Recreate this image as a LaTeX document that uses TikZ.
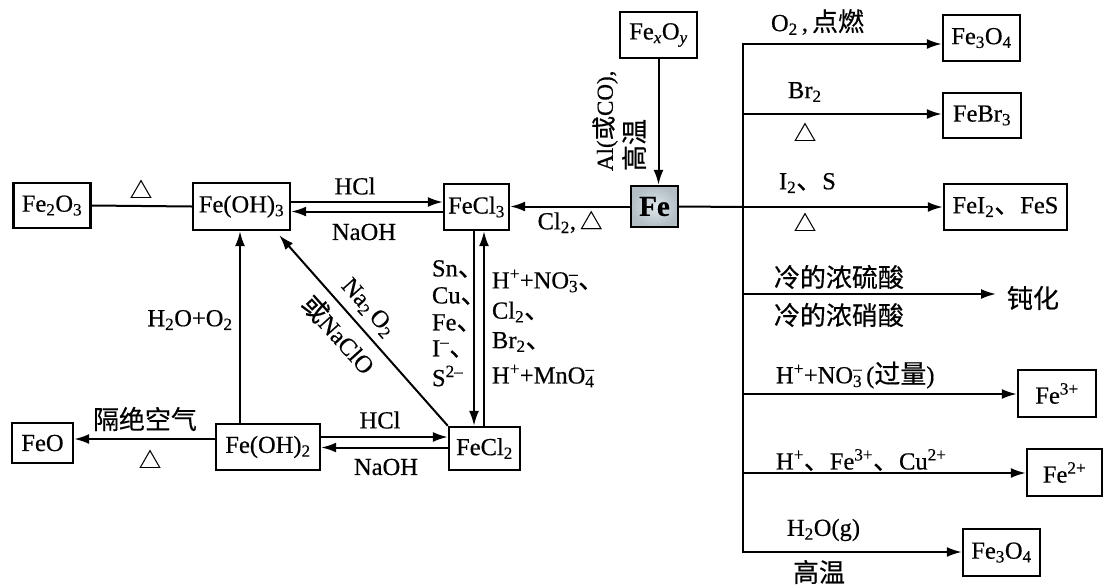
\documentclass[tikz,border=0pt]{standalone}
\usepackage{fontspec}
\setmainfont[RawFeature={embolden=0.5}]{Liberation Serif}
\newfontfamily\cjk[Scale=1.06,RawFeature={embolden=0.4}]{Noto Sans CJK SC}
\usetikzlibrary{arrows.meta}
\newcommand{\tri}{{\fontsize{21}{22}\selectfont\cjk △}}
\newcommand{\dun}{{\cjk 、}}
\newcommand{\dn}[1]{\textsubscript{#1}}
\newcommand{\up}[1]{\textsuperscript{#1}}
\newcommand{\updn}[2]{\rlap{\up{#1}}\dn{#2}}
\tikzset{
	chembox/.style={draw=black, line width=2.4pt, inner sep=0pt, align=center},
	rxn/.style={draw=black, -{Latex[length=15pt,width=10pt]}},
	rxnnoarrow/.style={draw=black},
	lbl/.style={inner sep=0pt, align=center},
	lblleft/.style={inner sep=0pt, anchor=west},
}
\begin{document}
\begin{tikzpicture}[x=1pt, y=-1pt, line width=2pt, font=\fontsize{24.5}{26}\selectfont]
	\useasboundingbox (0,0) rectangle (1103,584);
	% left part
	\node[chembox, minimum width=77pt, minimum height=45pt] (feiiio) at (52,205.5) {Fe\dn{2}O\dn{3}};
	\node[chembox, minimum width=97pt, minimum height=47pt] (feohiii) at (241.5,206.5) {Fe(OH)\dn{3}};
	\node[chembox, minimum width=65pt, minimum height=46pt] (fecliii) at (476.5,207) {FeCl\dn{3}};
	\node[chembox, minimum width=61pt, minimum height=40pt] (feo) at (42.5,443) {FeO};
	\node[chembox, minimum width=104pt, minimum height=46pt] (feohii) at (268,447) {Fe(OH)\dn{2}};
	\node[chembox, minimum width=71pt, minimum height=43pt] (feclii) at (484.5,448.5) {FeCl\dn{2}};
	% top part
	\node[chembox, minimum width=77pt, minimum height=46pt] (fexoy) at (658.5,35) {Fe\dn{\textit{x}}O\dn{\textit{y}}};
	\node[chembox, minimum width=47pt, minimum height=41pt, inner color={rgb,255:red,222;green,231;blue,236}, outer color={rgb,255:red,178;green,190;blue,196}, font=\fontsize{29}{30}\selectfont] (fe) at (654.5,206.5) {\textbf{Fe}};
	% products
	\node[chembox, minimum width=77pt, minimum height=46pt] (feivo) at (981.5,38) {Fe\dn{3}O\dn{4}};
	\node[chembox, minimum width=78pt, minimum height=45pt] (febr) at (982,115.5) {FeBr\dn{3}};
	\node[chembox, minimum width=123pt, minimum height=46pt] (feis) at (1005.5,207) {FeI\dn{2}\dun FeS};
	\node[lbl] (dunhua) at (1033,298) {\cjk 钝化};
	\node[chembox, minimum width=78pt, minimum height=47pt] (feplusiii) at (1057,393.5) {Fe\up{3+}};
	\node[chembox, minimum width=75pt, minimum height=47pt] (feplusii) at (1064.5,472.5) {Fe\up{2+}};
	\node[chembox, minimum width=77pt, minimum height=47pt] (feivob) at (1001.5,552.5) {Fe\dn{3}O\dn{4}};
	% bus
	\coordinate (bustop) at (743,44);
	\coordinate (busbr) at (743,114);
	\coordinate (busfe) at (743,207);
	\coordinate (busdun) at (743,294);
	\coordinate (busiii) at (743,394);
	\coordinate (busii) at (743,473);
	\coordinate (busbot) at (743,552);
	\coordinate (duntip) at (996,294);
	\draw[rxnnoarrow, line cap=rect] (bustop) -- (busbot);
	\draw[rxnnoarrow] (fe.east) -- (busfe);
	\draw[rxn] (bustop) -- (bustop -| feivo.west);
	\draw[rxn] (busbr) -- (busbr -| febr.west);
	\draw[rxn] (busfe) -- (busfe -| feis.west);
	\draw[rxn] (busdun) -- (duntip);
	\draw[rxn] (busiii) -- (busiii -| feplusiii.west);
	\draw[rxn] (busii) -- (busii -| feplusii.west);
	\draw[rxn] (busbot) -- (busbot -| feivob.west);
	% arrows
	\draw[rxn] (fexoy.south) -- (fexoy.south |- fe.north);
	\draw[rxn] (fe.west) -- (fe.west -| fecliii.east);
	\draw[rxnnoarrow] (feiiio.east) -- (feohiii.west);
	\draw[rxn] ([yshift=4.5pt]feohiii.east) -- ([yshift=4.5pt]feohiii.east -| fecliii.west);
	\draw[rxn] ([yshift=-4.5pt]fecliii.west) -- ([yshift=-4.5pt]fecliii.west -| feohiii.east);
	\draw[rxn] ([yshift=10pt]feohii.east) -- ([yshift=10pt]feohii.east -| feclii.west);
	\draw[rxn] ([yshift=1pt]feclii.west) -- ([yshift=1pt]feclii.west -| feohii.east);
	\draw[rxn] ([yshift=8pt]feohii.west) -- ([yshift=8pt]feohii.west -| feo.east);
	\draw[rxn] ([xshift=-28pt]feohii.north) -- ([xshift=-28pt]feohii.north |- feohiii.south);
	\draw[rxn] (feclii.north west) -- ([xshift=-12pt,yshift=-4pt]feohiii.south east);
	\draw[rxn] ([xshift=-2.5pt]fecliii.south) -- ([xshift=-2.5pt]fecliii.south |- feclii.north);
	\draw[rxn] ([xshift=-0.5pt]feclii.north) -- ([xshift=-0.5pt]feclii.north |- fecliii.south);
	% labels
	\node[lbl] (triA) at (141,189) {\tri};
	\node[lbl] (hclA) at (355,186) {HCl};
	\node[lbl] (naohA) at (364,232) {NaOH};
	\node[lbl] (clfe) at (570,222) {Cl\dn{2},\,\tri};
	\node[lbl] (wo) at (190,320) {H\dn{2}O+O\dn{2}};
	\node[lbl] (geli) at (145,419) {\cjk 隔绝空气};
	\node[lbl] (triB) at (150,459) {\tri};
	\node[lbl] (hclB) at (380,420) {HCl};
	\node[lbl] (naohB) at (386,467) {NaOH};
	\node[lbl, rotate=-48] (naoo) at (368,308) {Na\dn{2}\,O\dn{2}};
	\node[lbl, rotate=-48] (naclo) at (339,334) {{\cjk 或}NaClO};
	\node[lblleft] (lsn) at (431,269) {Sn\dun};
	\node[lblleft] (lcu) at (431,296) {Cu\dun};
	\node[lblleft] (lfe) at (431,323) {Fe\dun};
	\node[lblleft] (li) at (431,349) {I\up{--}\dun};
	\node[lblleft] (ls) at (431,376) {S\up{2--}};
	\node[lblleft] (rno) at (491,281) {H\up{+}+NO\updn{--}{3}\dun};
	\node[lblleft] (rcl) at (491,312) {Cl\dn{2}\dun};
	\node[lblleft] (rbr) at (491,342) {Br\dn{2}\dun};
	\node[lblleft] (rmn) at (491,376) {H\up{+}+MnO\updn{--}{4}};
	\node[lbl, rotate=90, anchor=west, font=\fontsize{23}{25}\selectfont] (alco) at (605,172) {Al({\cjk 或}CO),};
	\node[lbl, rotate=90, anchor=west] (gwA) at (634,172) {\cjk 高温};
	\node[lblleft] (odian) at (770,22) {O\dn{2}\,,\,{\cjk 点燃}};
	\node[lblleft] (brl) at (787,92) {Br\dn{2}};
	\node[lbl] (triC) at (805,132) {\tri};
	\node[lblleft] (is) at (778,183) {I\dn{2}\dun S};
	\node[lbl] (triD) at (805,222) {\tri};
	\node[lblleft] (liu) at (773,277) {\cjk 冷的浓硫酸};
	\node[lblleft] (xiao) at (773,315) {\cjk 冷的浓硝酸};
	\node[lblleft] (noex) at (775,375) {H\up{+}+NO\updn{--}{3}\,({\cjk 过量})};
	\node[lblleft] (hfecu) at (775,460) {H\up{+}\dun Fe\up{3+}\dun Cu\up{2+}};
	\node[lblleft] (hog) at (786,530) {H\dn{2}O(g)};
	\node[lbl] (gwB) at (819,572) {\cjk 高温};
\end{tikzpicture}
\end{document}
